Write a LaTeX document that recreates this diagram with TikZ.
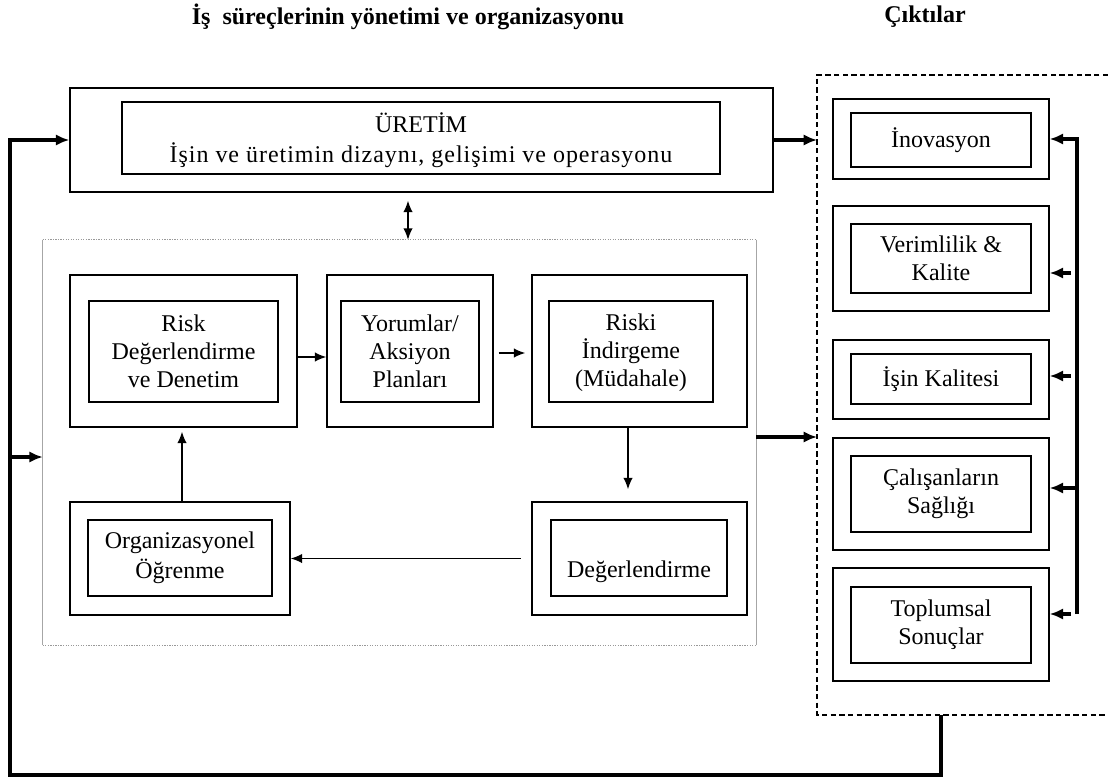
\documentclass[tikz,border=0pt]{standalone}
\usepackage{fontspec}
\setmainfont{Liberation Serif}
\usetikzlibrary{arrows.meta,fit}

\begin{document}
\begin{tikzpicture}[x=0.75pt,y=-0.75pt,
  box/.style={draw, line width=1.1pt, inner sep=0pt, fit={#1}},
  label text/.style={align=center, inner sep=0pt, font=\fontsize{18}{21}\selectfont},
  wide lines/.style={font=\fontsize{18}{22.5}\selectfont},
  title text/.style={font=\bfseries\fontsize{18}{21}\selectfont},
  thinarrow/.style={line width=1pt, -{Latex[length=8.5pt,width=7pt]}},
  bothways/.style={line width=1pt, {Latex[length=8.5pt,width=7pt]}-{Latex[length=8.5pt,width=7pt]}},
  bigarrow/.style={line width=2.6pt, -{Latex[length=10pt,width=8.5pt]}},
  frame dotted/.style={draw=gray!80, line width=0.9pt, densely dotted},
  frame side/.style={draw=gray!70, line width=0.8pt},
  frame dashed/.style={line width=0.9pt, dash pattern=on 4pt off 2.5pt}
]
\useasboundingbox (0,0) rectangle (1108,778);

% headings
\node[title text] (head1) at (408,17) {İş\ \ süreçlerinin yönetimi ve organizasyonu};
\node[title text] (head2) at (925,17) {Çıktılar};

% production block
\node[box={(70,88) (773,192)}] (uret) {};
\node[box={(122,102) (720,174)}] (uretin) {};
\node[label text, wide lines] (urett) at ([yshift=-1.5pt]uretin.center)
  {ÜRETİM\\{\addfontfeature{LetterSpace=4}İşin ve üretimin dizaynı, gelişimi ve operasyonu}};

% process area (dotted frame)
\node[inner sep=0pt, fit={(43,240) (756,645)}] (proc) {};
\draw[frame dotted] (proc.north west) -- (proc.north east);
\draw[frame dotted] (proc.south west) -- (proc.south east);
\draw[frame side] (proc.north west) -- (proc.south west);
\draw[frame side] (proc.north east) -- (proc.south east);

\node[box={(70,275) (297,427)}] (risk) {};
\node[box={(89,301) (278,402)}] (riskin) {};
\node[label text] (riskt) at (riskin.center) {Risk\\Değerlendirme\\ve Denetim};

\node[box={(327,275) (493,427)}] (yorum) {};
\node[box={(341,301) (479,402)}] (yorumin) {};
\node[label text] (yorumt) at (yorumin.center) {Yorumlar/\\Aksiyon\\Planları};

\node[box={(532,275) (747,427)}] (riski) {};
\node[box={(549,301) (713,402)}] (riskiin) {};
\node[label text] (riskit) at ([yshift=-1pt]riskiin.center) {Riski\\İndirgeme\\(Müdahale)};

\node[box={(532,502) (747,615)}] (deger) {};
\node[box={(551,520) (727,596)}] (degerin) {};
\node[label text] (degert) at ([yshift=-10pt]degerin.center) {Değerlendirme};

\node[box={(70,502) (290,615)}] (org) {};
\node[box={(88,520) (272,596)}] (orgin) {};
\node[label text, wide lines] (orgt) at (orgin.center) {Organizasyonel\\Öğrenme};

% outputs area (dashed frame, open to the right)
\coordinate (dnw) at (817,75);
\coordinate (dsw) at (817,715);
\draw[frame dashed] (1108,75) -- (dnw) -- (dsw) -- (1108,715);

\node[box={(833,99) (1049,179)}] (inov) {};
\node[box={(851,113) (1031,167)}] (inovin) {};
\node[label text] (inovt) at (inovin.center) {İnovasyon};

\node[box={(833,206) (1049,311)}] (verim) {};
\node[box={(851,224) (1031,293)}] (verimin) {};
\node[label text] (verimt) at (verimin.center) {Verimlilik \&\\Kalite};

\node[box={(833,340) (1049,419)}] (isin) {};
\node[box={(851,354) (1031,404)}] (isinin) {};
\node[label text] (isint) at (isinin.center) {İşin Kalitesi};

\node[box={(833,438) (1049,550)}] (calis) {};
\node[box={(851,456) (1031,532)}] (calisin) {};
\node[label text] (calist) at (calisin.center) {Çalışanların\\Sağlığı};

\node[box={(833,568) (1049,681)}] (topl) {};
\node[box={(851,587) (1031,663)}] (toplin) {};
\node[label text] (toplt) at (toplin.center) {Toplumsal\\Sonuçlar};

% connectors inside the process area
\draw[thinarrow] ([yshift=-4.5pt]risk.east) -- ([yshift=-4.5pt]yorum.west);
\draw[thinarrow, shorten <=3.75pt, shorten >=4.5pt] ([yshift=-1.5pt]yorum.east) -- ([yshift=-1.5pt]riski.west);
\coordinate (rd) at (628,460);
\draw[thinarrow, shorten >=9pt] (riski.south -| rd) -- (deger.north -| rd);
\draw[thinarrow, shorten <=8pt] (deger.west) -- (org.east);
\coordinate (ou) at (182,460);
\draw[thinarrow, shorten >=3pt] (org.north -| ou) -- (risk.south -| ou);

% production <-> process
\coordinate (pv) at (408,215);
\draw[bothways, shorten <=6pt] (uret.south -| pv) -- (proc.north -| pv);

% main flows
\draw[bigarrow] (uret.east) -- (uret.east -| dnw);
\coordinate (pj) at (756,437);
\draw[bigarrow] (pj) -- (pj -| dnw);

% feedback loop
\coordinate (fbs) at (941,715);
\coordinate (fb1) at (941,775);
\coordinate (fb2) at (10,775);
\coordinate (lj) at (10,457);
\draw[bigarrow, line join=miter] (fbs) -- (fb1) -- (fb2) |- (uret.west);
\draw[bigarrow] (lj) -- (lj -| proc.west);

% distribution bus on the right
\coordinate (bb) at (1077,614);
\draw[bigarrow, line join=miter] (bb) |- (inov.east);
\coordinate (b4) at (1077,488);
\draw[bigarrow] (b4) -- (b4 -| calis.east);
\coordinate (b2) at (1071,273);
\draw[bigarrow] (b2) -- (b2 -| verim.east);
\coordinate (b3) at (1071,376);
\draw[bigarrow] (b3) -- (b3 -| isin.east);
\coordinate (b5) at (1071,614);
\draw[bigarrow] (b5) -- (b5 -| topl.east);
\end{tikzpicture}
\end{document}
